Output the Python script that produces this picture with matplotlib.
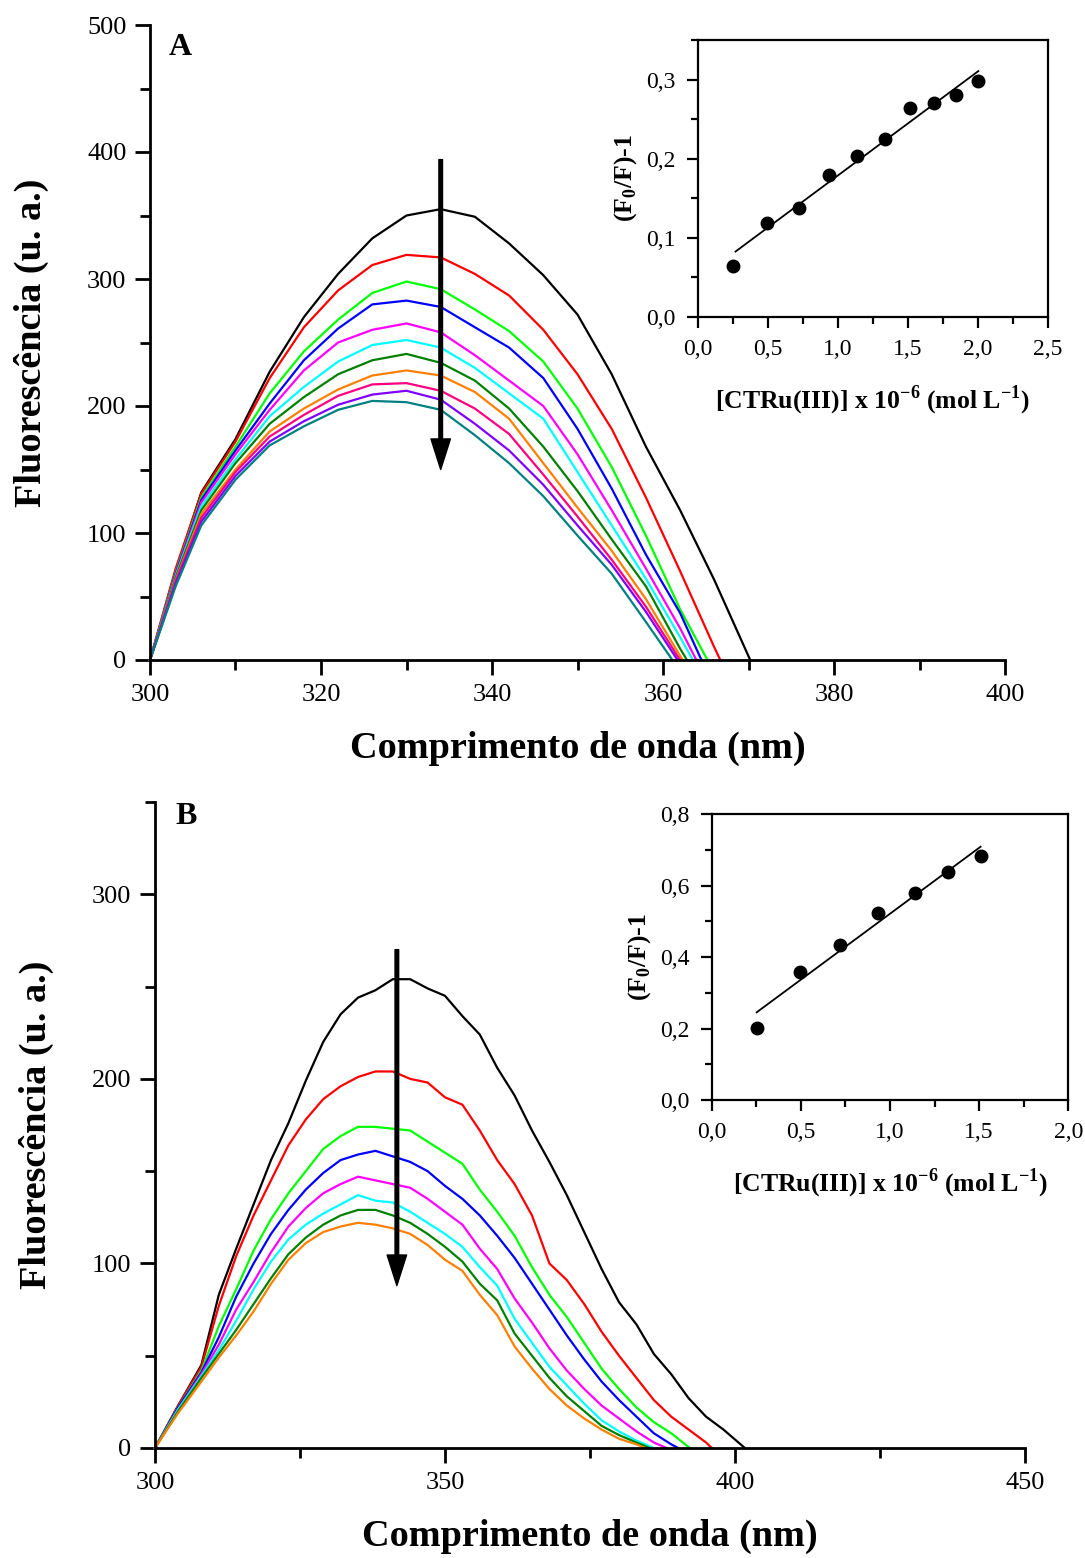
import matplotlib
matplotlib.use('Agg')
import matplotlib.pyplot as plt
import numpy as np
from matplotlib.ticker import MultipleLocator, FuncFormatter

plt.rcParams['font.family'] = ['Liberation Serif', 'DejaVu Serif']
plt.rcParams['mathtext.fontset'] = 'custom'
plt.rcParams['mathtext.rm'] = 'Liberation Serif'
plt.rcParams['mathtext.bf'] = 'Liberation Serif:bold'

# ---------------- Panel A data ----------------
wl_A = [300, 303, 306, 310, 314, 318, 322, 326, 330, 334, 338, 342, 346, 350, 354, 358, 362, 366]
A_black   = [0, 70, 132, 174, 227, 270, 304, 332, 350, 355, 349, 328, 303, 272, 225, 168, 118, 63]
A_red     = [0, 72, 131, 172, 222, 262, 291, 311, 319, 317, 304, 287, 260, 225, 182, 128, 70, 10]
A_green   = [0, 69, 128, 168, 210, 243, 268, 289, 298, 292, 276, 259, 235, 198, 152, 98, 40]
A_blue    = [0, 68, 126, 165, 202, 236, 261, 280, 283, 278, 262, 246, 222, 182, 135, 83, 37]
A_magenta = [0, 67, 124, 162, 197, 228, 250, 260, 265, 258, 240, 220, 200, 162, 118, 72, 25]
A_cyan    = [0, 66, 121, 158, 192, 215, 235, 248, 252, 246, 230, 210, 190, 148, 106, 64, 18]
A_dkgreen = [0, 65, 118, 155, 186, 207, 225, 236, 241, 234, 220, 198, 168, 133, 95, 58, 9]
A_orange  = [0, 63, 115, 150, 180, 198, 213, 224, 228, 224, 211, 190, 155, 120, 86, 48]
A_pink    = [0, 62, 112, 148, 176, 193, 208, 217, 218, 212, 198, 178, 146, 113, 79, 42]
A_purple  = [0, 60, 109, 145, 172, 188, 201, 209, 212, 205, 186, 165, 138, 106, 75, 38]
A_teal    = [0, 58, 106, 142, 169, 184, 197, 204, 203, 197, 177, 155, 129, 98, 68, 30]
A_curves = [A_black, A_red, A_green, A_blue, A_magenta, A_cyan, A_dkgreen,
            A_orange, A_pink, A_purple, A_teal]
A_end = [370.2, 366.7, 365.2, 364.5, 363.9, 363.5, 362.8, 362.3, 362.0, 361.7, 361.1]
A_colors = ['#000000', '#FF0000', '#00FF00', '#0000FF', '#FF00FF', '#00FFFF',
            '#008000', '#FF8000', '#FF0080', '#8000FF', '#008080']

# inset A
conc_A = [0.255, 0.498, 0.726, 0.940, 1.140, 1.338, 1.517, 1.688, 1.845, 2.005]
sv_A = [0.065, 0.119, 0.138, 0.180, 0.203, 0.225, 0.264, 0.271, 0.280, 0.298]

# ---------------- Panel B data ----------------
wl_B = [300, 304, 308, 311, 314, 317, 320, 323, 326, 329, 332, 335, 338, 341, 344, 347,
        350, 353, 356, 359, 362, 365, 368, 371, 374, 377, 380, 383, 386, 389, 392, 395, 398]
B_black   = [0, 23, 45, 83, 108, 132, 156, 176, 199, 220, 235, 244, 248, 254, 254, 249, 245,
             234, 224, 206, 191, 172, 155, 137, 117, 97, 79, 67, 51, 40, 27, 17, 10]
B_red     = [0, 23, 44, 77, 104, 126, 145, 164, 178, 189, 196, 201, 204, 204, 200, 198, 190,
             186, 172, 156, 143, 126, 100, 91, 78, 63, 50, 38, 26, 17, 10, 3]
B_green   = [0, 22, 42, 66, 86, 107, 124, 138, 150, 162, 169, 174, 174, 173, 172, 166, 160,
             154, 140, 128, 115, 98, 83, 71, 57, 43, 32, 22, 14, 8]
B_blue    = [0, 22, 41, 60, 82, 100, 116, 129, 140, 149, 156, 159, 161, 158, 155, 150, 142,
             135, 126, 115, 103, 89, 75, 61, 48, 36, 26, 17, 8, 2]
B_magenta = [0, 21, 40, 56, 75, 90, 106, 120, 130, 138, 143, 147, 145, 143, 141, 135, 128,
             121, 108, 97, 81, 68, 54, 42, 32, 23, 16, 9, 3]
B_cyan    = [0, 21, 39, 53, 69, 86, 101, 113, 121, 127, 132, 137, 134, 133, 128, 122, 116,
             109, 98, 88, 70, 57, 44, 34, 24, 15, 9, 4]
B_dkgreen = [0, 20, 38, 51, 64, 78, 92, 105, 114, 121, 126, 129, 129, 126, 122, 116, 109,
             101, 89, 80, 62, 50, 38, 28, 20, 12, 7, 3]
B_orange  = [0, 19, 36, 49, 61, 74, 89, 102, 111, 117, 120, 122, 121, 119, 116, 110, 102,
             96, 83, 72, 55, 43, 32, 23, 16, 10, 5, 2]
B_curves = [B_black, B_red, B_green, B_blue, B_magenta, B_cyan, B_dkgreen, B_orange]
B_end = [401.7, 396.0, 392.2, 390.2, 388.2, 386.0, 385.3, 384.5]
B_colors = ['#000000', '#FF0000', '#00FF00', '#0000FF', '#FF00FF', '#00FFFF',
            '#008000', '#FF8000']

# inset B
conc_B = [0.252, 0.495, 0.720, 0.935, 1.140, 1.327, 1.508]
sv_B = [0.203, 0.359, 0.433, 0.525, 0.580, 0.638, 0.683]

comma = FuncFormatter(lambda v, p: f'{v:.1f}'.replace('.', ','))

fig = plt.figure(figsize=(10.85, 15.58), dpi=100)


def style_main(ax):
    for s in ['top', 'right']:
        ax.spines[s].set_visible(False)
    for s in ['left', 'bottom']:
        ax.spines[s].set_linewidth(2)
    ax.tick_params(which='major', direction='out', length=11, width=2,
                   labelsize=19, pad=6)
    ax.tick_params(which='minor', direction='out', length=7, width=2)


def draw_curves(ax, grid, curves, ends, colors):
    for ys, end, c in zip(curves, ends, colors):
        xs = list(grid[:len(ys)]) + [end]
        yy = list(ys) + [0]
        ax.plot(xs, yy, color=c, lw=1.6, clip_on=False)


def style_inset(ax):
    for s in ax.spines.values():
        s.set_linewidth(1.6)
    ax.tick_params(which='major', direction='out', length=8, width=1.6,
                   labelsize=17, pad=8)
    ax.tick_params(which='minor', direction='out', length=5, width=1.6)
    ax.xaxis.set_major_formatter(comma)
    ax.yaxis.set_major_formatter(comma)


XLAB = 'Comprimento de onda (nm)'
YLAB = 'Fluorescência (u. a.)'
IXLAB = r'[CTRu(III)] x 10$^{\mathbf{-6}}$ (mol L$^{\mathbf{-1}}$)'
IYLAB = r'(F$_{\mathbf{0}}$/F)-1'

# ---------------- Panel A ----------------
axA = fig.add_axes([150/1085, 1-660/1558, 855/1085, 635/1558])
draw_curves(axA, wl_A, A_curves, A_end, A_colors)
axA.set_xlim(300, 400)
axA.set_ylim(0, 500)
axA.xaxis.set_major_locator(MultipleLocator(20))
axA.xaxis.set_minor_locator(MultipleLocator(10))
axA.yaxis.set_major_locator(MultipleLocator(100))
axA.yaxis.set_minor_locator(MultipleLocator(50))
style_main(axA)
axA.set_xlabel(XLAB, fontsize=27.5, fontweight='bold', labelpad=18)
axA.set_ylabel(YLAB, fontsize=27.5, fontweight='bold', labelpad=27)
axA.text(0.035, 0.965, 'A', transform=axA.transAxes, fontsize=23,
         fontweight='bold', ha='center', va='center')
axA.annotate('', xy=(334.0, 150), xytext=(334.0, 394),
             arrowprops=dict(width=2.6, headwidth=14, headlength=22,
                             facecolor='black', edgecolor='black'))

# inset A
inA = fig.add_axes([697.7/1085, 1-317/1558, 350/1085, 277/1558])
inA.plot(conc_A, sv_A, 'o', color='black', markersize=9)
kA, bA = np.polyfit(conc_A, sv_A, 1)
xfA = np.array([conc_A[0] + 0.015, conc_A[-1]])
inA.plot(xfA, kA * xfA + bA, color='black', lw=1.3)
inA.set_xlim(0, 2.5)
inA.set_ylim(0, 0.35)
inA.xaxis.set_major_locator(MultipleLocator(0.5))
inA.xaxis.set_minor_locator(MultipleLocator(0.25))
inA.yaxis.set_major_locator(MultipleLocator(0.1))
inA.yaxis.set_minor_locator(MultipleLocator(0.05))
style_inset(inA)
inA.set_xlabel(IXLAB, fontsize=18.5, fontweight='bold', labelpad=17)
inA.set_ylabel(IYLAB, fontsize=18.5, fontweight='bold', labelpad=5)

# ---------------- Panel B ----------------
axB = fig.add_axes([155/1085, 1-1448/1558, 870/1085, 646/1558])
draw_curves(axB, wl_B, B_curves, B_end, B_colors)
axB.set_xlim(300, 450)
axB.set_ylim(0, 350)
axB.xaxis.set_major_locator(MultipleLocator(50))
axB.xaxis.set_minor_locator(MultipleLocator(25))
axB.yaxis.set_major_locator(MultipleLocator(100))
axB.yaxis.set_minor_locator(MultipleLocator(50))
style_main(axB)
axB.set_xlabel(XLAB, fontsize=27.5, fontweight='bold', labelpad=18)
axB.set_ylabel(YLAB, fontsize=27.5, fontweight='bold', labelpad=27)
axB.text(0.036, 0.977, 'B', transform=axB.transAxes, fontsize=23,
         fontweight='bold', ha='center', va='center')
axB.annotate('', xy=(341.7, 88), xytext=(341.7, 270),
             arrowprops=dict(width=2.6, headwidth=14, headlength=22,
                             facecolor='black', edgecolor='black'))

# inset B
inB = fig.add_axes([711.7/1085, 1-1100/1558, 356.6/1085, 285.7/1558])
inB.plot(conc_B, sv_B, 'o', color='black', markersize=9)
kB, bB = np.polyfit(conc_B, sv_B, 1)
xfB = np.array([conc_B[0], conc_B[-1]])
inB.plot(xfB, kB * xfB + bB, color='black', lw=1.3)
inB.set_xlim(0, 2.0)
inB.set_ylim(0, 0.8)
inB.xaxis.set_major_locator(MultipleLocator(0.5))
inB.xaxis.set_minor_locator(MultipleLocator(0.25))
inB.yaxis.set_major_locator(MultipleLocator(0.2))
inB.yaxis.set_minor_locator(MultipleLocator(0.1))
style_inset(inB)
inB.set_xlabel(IXLAB, fontsize=18.5, fontweight='bold', labelpad=17)
inB.set_ylabel(IYLAB, fontsize=18.5, fontweight='bold', labelpad=5)

fig.savefig('out.png', dpi=100)
